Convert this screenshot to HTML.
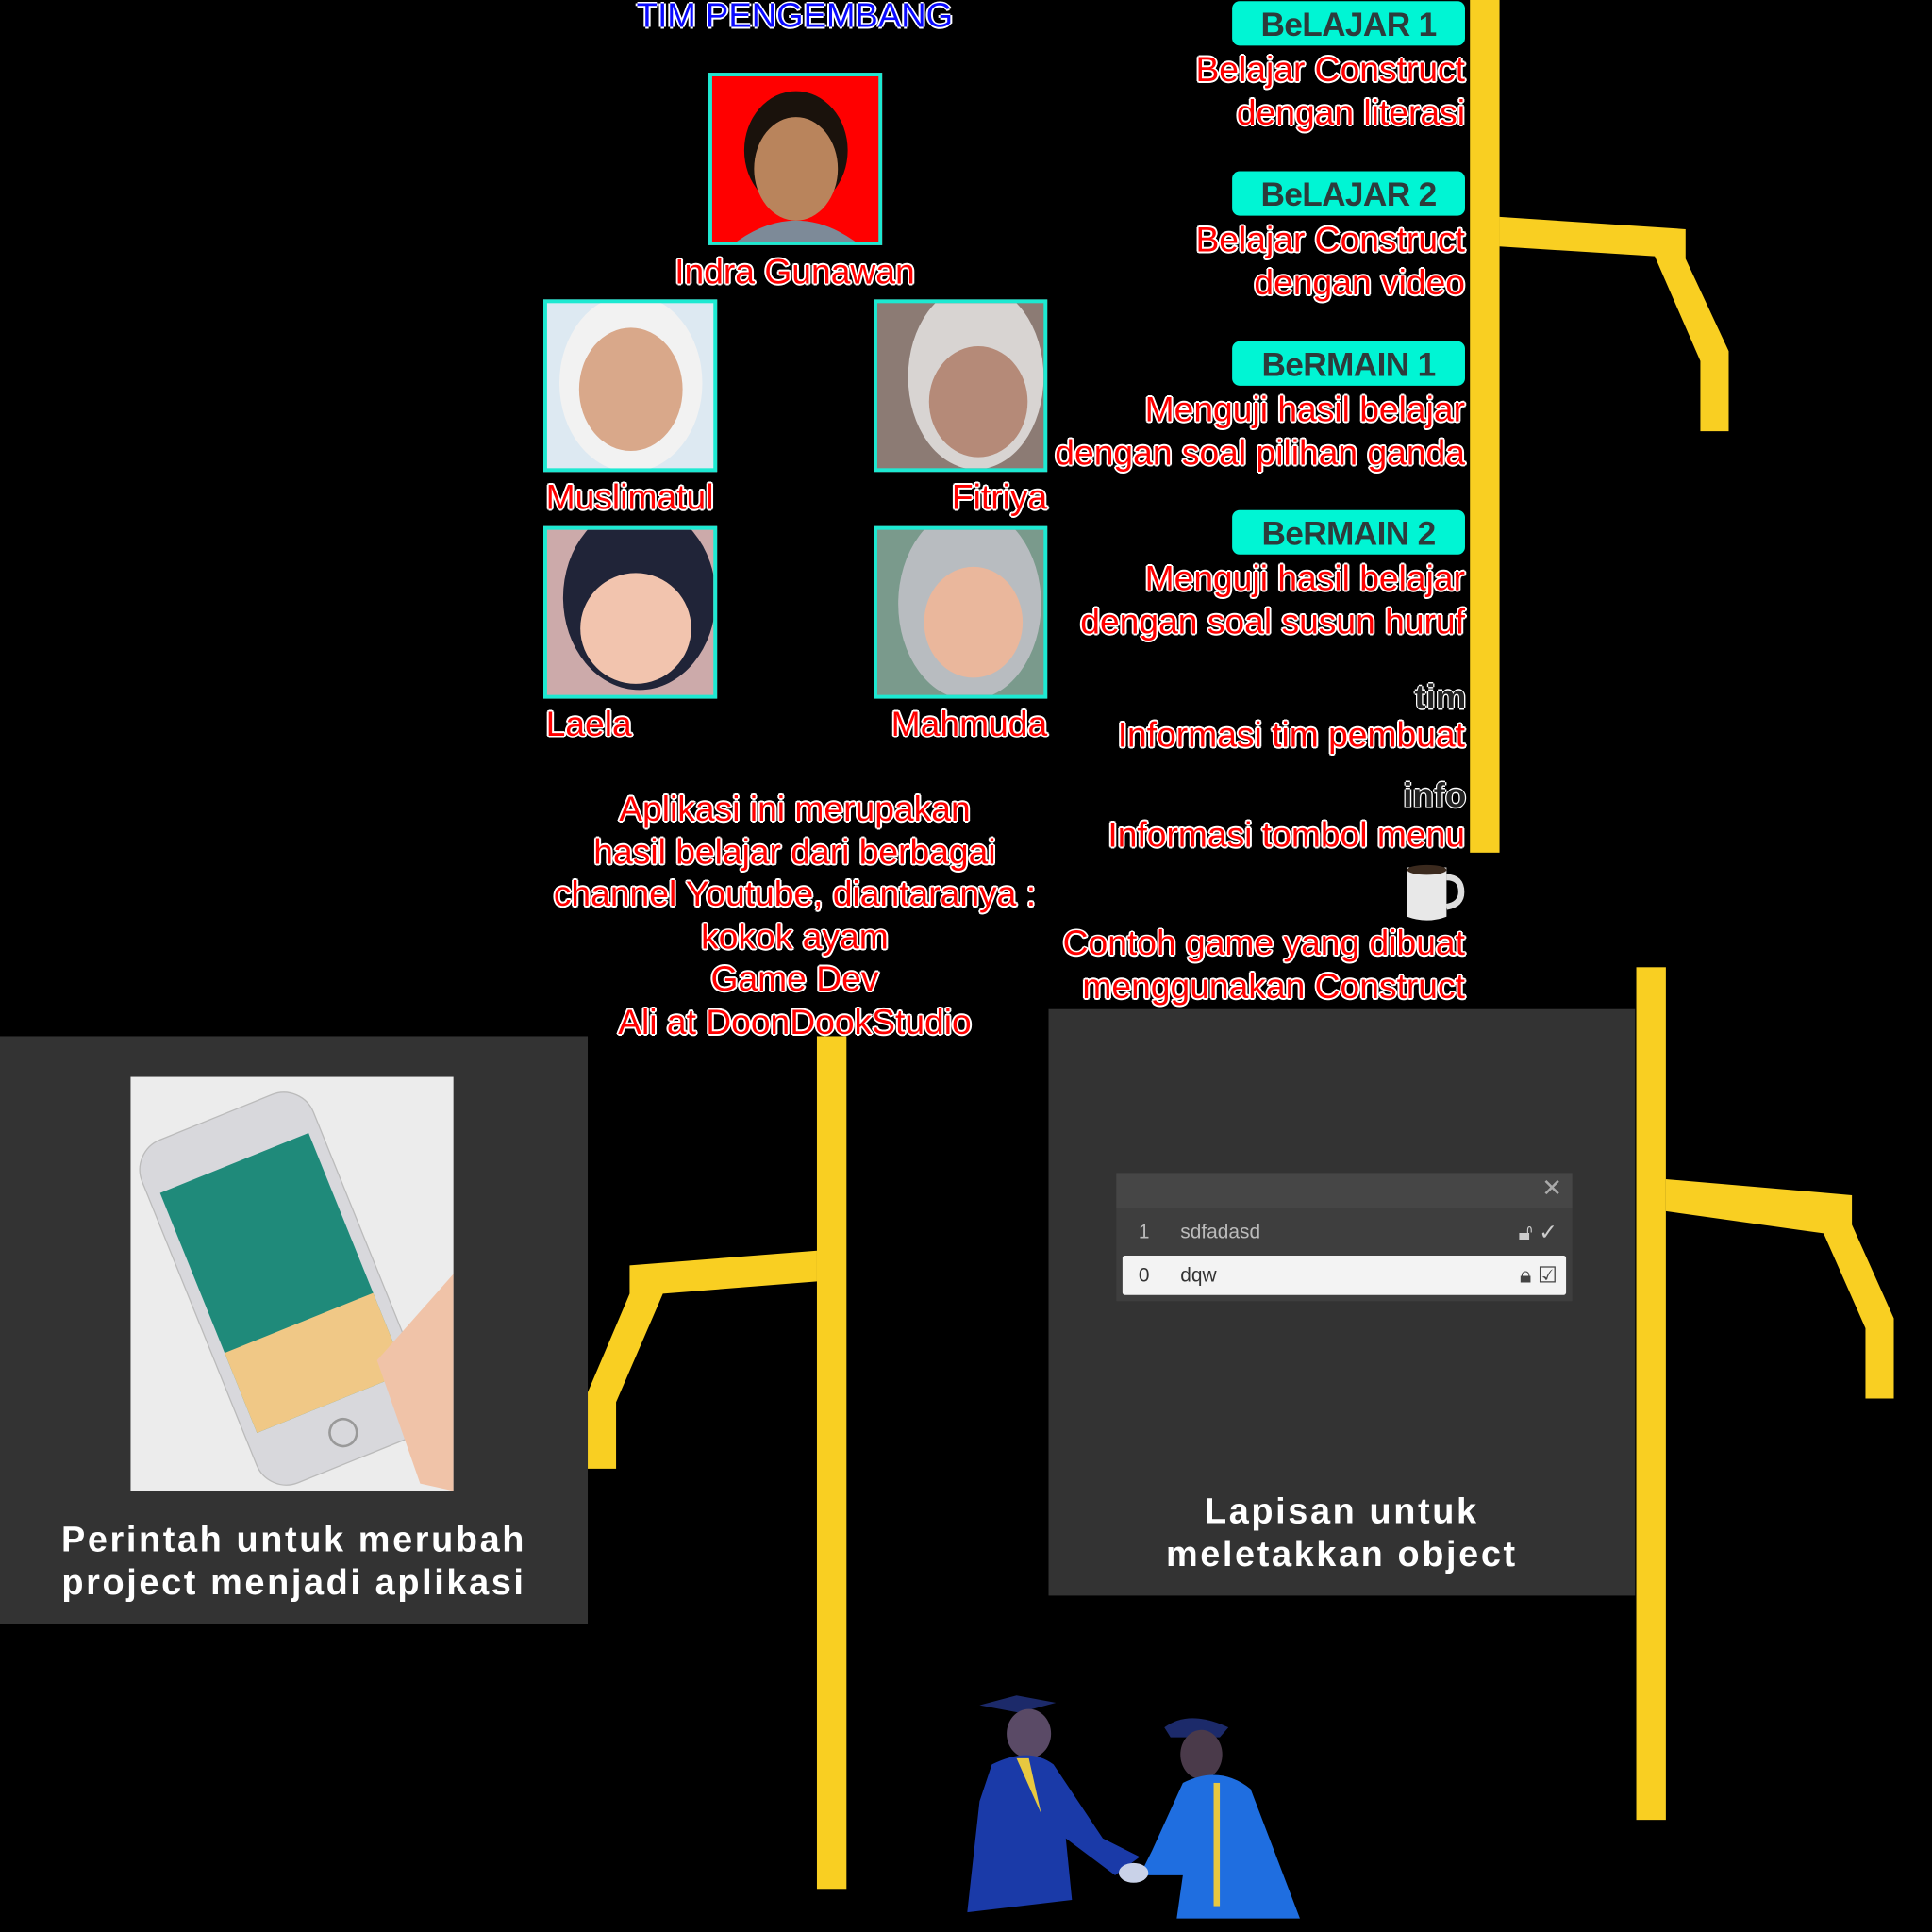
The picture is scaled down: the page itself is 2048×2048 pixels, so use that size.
<!DOCTYPE html>
<html><head><meta charset="utf-8"><style>
html,body{margin:0;padding:0;background:#000;width:2048px;height:2048px;overflow:hidden}
#s{position:absolute;left:0;top:0;width:1568px;height:1568px;transform:scale(1.306122);transform-origin:0 0;font-family:"Liberation Sans",sans-serif}
.a{position:absolute}
.r{color:#f00;font-size:28.5px;letter-spacing:0;line-height:34.5px;white-space:nowrap;
text-shadow:1.5px 0 #fff,-1.5px 0 #fff,0 1.5px #fff,0 -1.5px #fff,1px 1px #fff,-1px -1px #fff,1px -1px #fff,-1px 1px #fff}
.rt{text-align:right;right:379px}
.btn{position:absolute;left:1000px;width:189px;height:36px;background:#00f5d4;border-radius:6px;color:#2d3b3b;font-weight:bold;font-size:27px;text-align:center;line-height:38px;letter-spacing:-0.5px}
.ph{position:absolute;border:3px solid #1de9d2;box-sizing:border-box;width:141px;height:140px;overflow:hidden}
.y{position:absolute;background:#f9cf22}
.w{color:#fff;font-weight:bold;font-size:29px;letter-spacing:2px;line-height:34.5px;text-align:center;position:absolute}
.ic{color:#222;font-weight:bold;font-size:28px;text-shadow:1px 0 #fff,-1px 0 #fff,0 1px #fff,0 -1px #fff}
</style></head><body><div id="s">

<div class="a" style="left:445px;width:400px;top:-3px;text-align:center;color:#0a0aff;font-size:28px;text-shadow:1.5px 0 #fff,-1.5px 0 #fff,0 1.5px #fff,0 -1.5px #fff">TIM PENGEMBANG</div>

<div class="ph" style="left:575px;top:59px;background:#f00">
 <svg width="135" height="134"><ellipse cx="68" cy="60" rx="42" ry="48" fill="#1a120c"/><ellipse cx="68" cy="75" rx="34" ry="42" fill="#b9845c"/><path d="M20 134 Q68 100 116 134Z" fill="#7d8a98"/></svg></div>
<div class="a r" style="left:395px;width:500px;top:204px;text-align:center">Indra Gunawan</div>

<div class="ph" style="left:441px;top:243px;background:#dde9f2">
 <svg width="135" height="134"><ellipse cx="68" cy="65" rx="58" ry="72" fill="#f2f2f2"/><ellipse cx="68" cy="70" rx="42" ry="50" fill="#d9a88a"/></svg></div>
<div class="a r" style="left:443px;top:387px">Muslimatul</div>
<div class="ph" style="left:709px;top:243px;background:#8c7b74">
 <svg width="135" height="134"><ellipse cx="80" cy="60" rx="55" ry="75" fill="#d8d4d2"/><ellipse cx="82" cy="80" rx="40" ry="45" fill="#b58a78"/></svg></div>
<div class="a r" style="right:718px;top:387px;text-align:right">Fitriya</div>

<div class="ph" style="left:441px;top:427px;background:#caa">
 <svg width="135" height="134"><ellipse cx="75" cy="55" rx="62" ry="75" fill="#202438"/><ellipse cx="72" cy="80" rx="45" ry="45" fill="#f2c4ae"/></svg></div>
<div class="a r" style="left:443px;top:571px">Laela</div>
<div class="ph" style="left:709px;top:427px;background:#7a9a8c">
 <svg width="135" height="134"><ellipse cx="75" cy="60" rx="58" ry="78" fill="#b8bcc0"/><ellipse cx="78" cy="75" rx="40" ry="45" fill="#eab79c"/></svg></div>
<div class="a r" style="right:718px;top:571px;text-align:right">Mahmuda</div>

<div class="a r" style="left:395px;width:500px;top:640px;text-align:center">Aplikasi ini merupakan<br>hasil belajar dari berbagai<br>channel Youtube, diantaranya :<br>kokok ayam<br>Game Dev<br>Ali at DoonDookStudio</div>

<div class="btn" style="top:1px">BeLAJAR 1</div>
<div class="a r rt" style="top:40px">Belajar Construct<br>dengan literasi</div>
<div class="btn" style="top:139px">BeLAJAR 2</div>
<div class="a r rt" style="top:178px">Belajar Construct<br>dengan video</div>
<div class="btn" style="top:277px">BeRMAIN 1</div>
<div class="a r rt" style="top:316px">Menguji hasil belajar<br>dengan soal pilihan ganda</div>
<div class="btn" style="top:414px">BeRMAIN 2</div>
<div class="a r rt" style="top:453px">Menguji hasil belajar<br>dengan soal susun huruf</div>
<div class="a ic" style="right:378px;top:550px">tim</div>
<div class="a r rt" style="top:580px">Informasi tim pembuat</div>
<div class="a ic" style="right:378px;top:630px">info</div>
<div class="a r rt" style="top:661px">Informasi tombol menu</div>
<svg class="a" style="left:1136px;top:698px" width="54" height="54"><path d="M6 6 H38 V46 Q22 52 6 46Z" fill="#e8e8e8"/><ellipse cx="22" cy="8" rx="16" ry="4" fill="#3b2a1e"/><path d="M38 14 Q50 14 50 26 Q50 36 38 38" stroke="#ddd" stroke-width="5" fill="none"/></svg>
<div class="a r rt" style="top:749px">Contoh game yang dibuat<br>menggunakan Construct</div>

<div class="y" style="left:1193px;top:0;width:24px;height:692px"></div>
<svg class="a" style="left:0;top:0" width="1568" height="1568">
<polygon points="1217,176 1368,186 1368,210 1403,285 1403,350 1380,350 1380,293 1343,208 1217,200" fill="#f9cf22"/>
<polygon points="1352,957 1503,970 1503,994 1537,1070 1537,1135 1514,1135 1514,1078 1480,1001 1352,983" fill="#f9cf22"/>
<polygon points="663,1015 511,1027 511,1050 477,1130 477,1192 500,1192 500,1138 538,1050 663,1040" fill="#f9cf22"/>
</svg>
<div class="y" style="left:1328px;top:785px;width:24px;height:692px"></div>
<div class="y" style="left:663px;top:841px;width:24px;height:692px"></div>

<div class="a" style="left:0;top:841px;width:477px;height:477px;background:#333"></div>
<div class="a" style="left:106px;top:874px;width:262px;height:336px;background:#ececec;overflow:hidden">
 <svg width="262" height="336"><g transform="rotate(-22 130 170)"><rect x="50" y="20" width="150" height="300" rx="26" fill="#d8d8dc" stroke="#bbb"/><rect x="60" y="60" width="130" height="210" fill="#1f8a7a"/><rect x="60" y="200" width="130" height="70" fill="#f0c886"/><circle cx="125" cy="296" r="11" fill="none" stroke="#999" stroke-width="2"/></g><path d="M262 160 L200 230 L235 330 L262 336Z" fill="#f0c3a8"/></svg></div>
<div class="w" style="left:0;width:477px;top:1233px">Perintah untuk merubah<br>project menjadi aplikasi</div>

<div class="a" style="left:851px;top:819px;width:476px;height:476px;background:#333"></div>
<div class="a" style="left:906px;top:952px;width:370px;height:104px;background:#3e3e3e">
 <div class="a" style="left:0;top:0;width:370px;height:28px;background:#464646"></div>
 <div class="a" style="right:8px;top:0;color:#aaa;font-size:20px">✕</div>
 <div class="a" style="left:18px;top:40px;color:#bbb;font-size:16px">1</div>
 <div class="a" style="left:52px;top:40px;color:#bbb;font-size:16px">sdfadasd</div>
 <div class="a" style="right:12px;top:38px;color:#ccc;font-size:18px">🔓︎ ✓</div>
 <div class="a" style="left:5px;top:67px;width:360px;height:32px;background:#f3f3f3;border-radius:2px"></div>
 <div class="a" style="left:18px;top:75px;color:#333;font-size:16px">0</div>
 <div class="a" style="left:52px;top:75px;color:#333;font-size:16px">dqw</div>
 <div class="a" style="right:12px;top:73px;color:#444;font-size:18px">🔒︎ ☑</div>
</div>
<div class="w" style="left:851px;width:476px;top:1210px">Lapisan untuk<br>meletakkan object</div>

<svg class="a" style="left:785px;top:1372px" width="272" height="190">
<path d="M10 12 L40 4 L72 10 L42 18Z" fill="#1c2a6a"/>
<ellipse cx="50" cy="35" rx="18" ry="20" fill="#5a4a66"/>
<path d="M20 60 Q50 45 70 60 L110 120 L140 135 L120 150 L80 120 L85 170 L0 180 L10 90Z" fill="#1a3aa8"/>
<path d="M40 55 L60 100 L50 55Z" fill="#e8c840"/>
<path d="M160 30 Q180 15 212 30 L205 38 L165 38Z" fill="#1c2a6a"/>
<ellipse cx="190" cy="52" rx="17" ry="20" fill="#4a3a4a"/>
<path d="M175 75 Q205 60 230 80 L270 185 L170 185 L175 150 L140 150 L150 130Z" fill="#1f6ee0"/>
<rect x="200" y="75" width="5" height="100" fill="#e8c840"/>
<ellipse cx="135" cy="148" rx="12" ry="8" fill="#c9d2e8"/>
</svg>

</div></body></html>
